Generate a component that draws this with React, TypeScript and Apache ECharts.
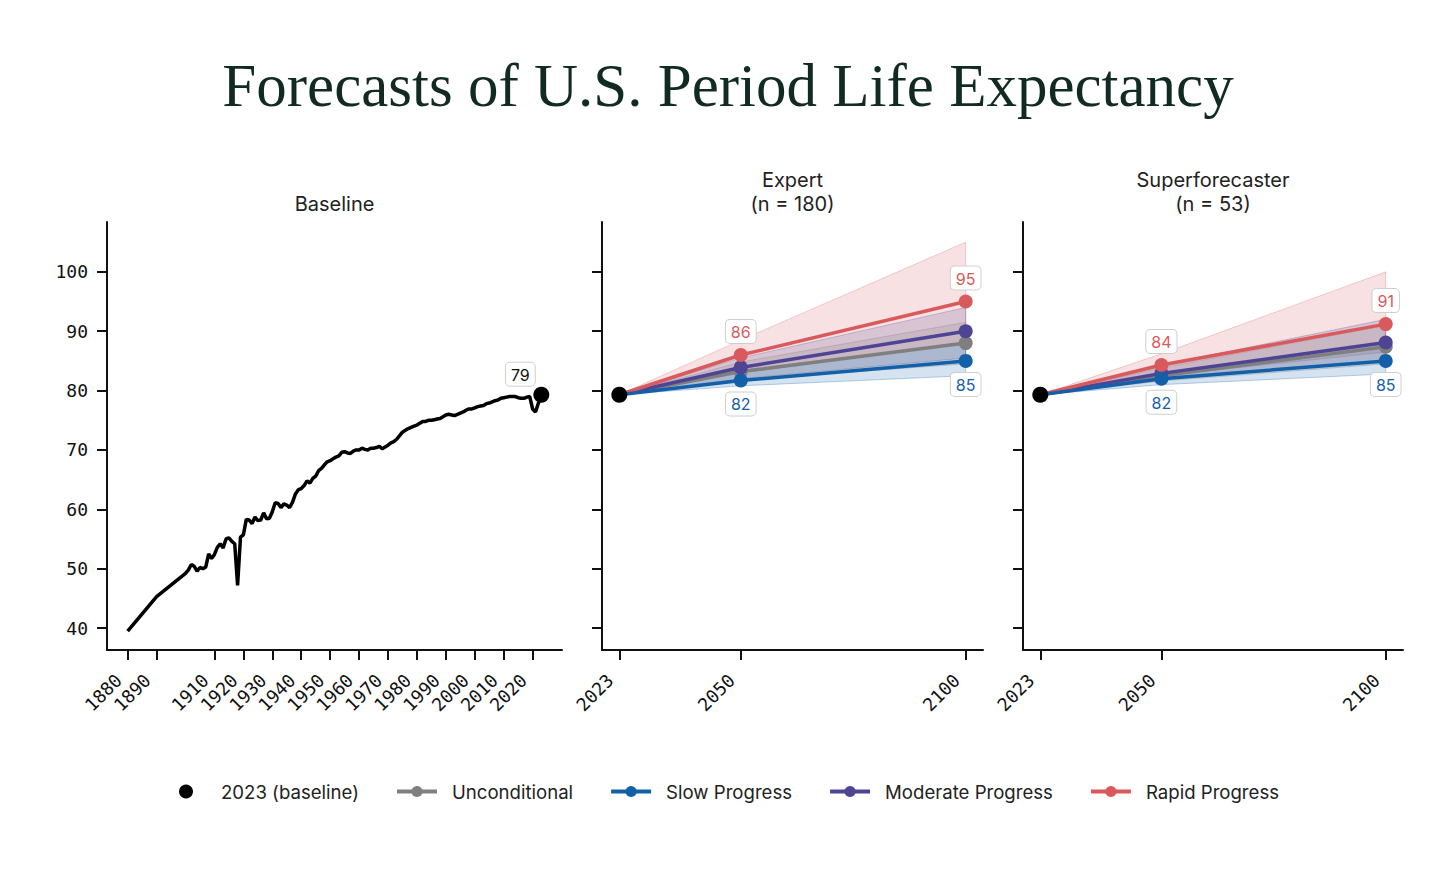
import React, { useEffect, useRef } from "react";
import * as echarts from "echarts";

// ---------- DATA ----------
const HIST_YEARS: number[] = [1880, 1890, ...Array.from({ length: 124 }, (_, i) => 1900 + i)];
const HIST_VALUES: number[] = [
  39.5, 45.3,
  49.2, 49.8, 50.7, 50.4, 49.6, 50.2, 50.0, 50.3, 52.5, 51.7,
  52.4, 53.6, 54.2, 53.5, 55.0, 55.2, 54.6, 54.2, 47.2, 55.3,
  55.7, 58.3, 58.2, 57.6, 58.7, 58.1, 58.2, 59.4, 58.4, 58.5,
  59.6, 61.1, 61.0, 60.3, 60.9, 60.7, 60.3, 61.2, 62.6, 63.3,
  63.5, 64.0, 64.8, 64.4, 65.2, 65.6, 66.5, 66.9, 67.5, 68.0,
  68.2, 68.5, 68.8, 69.0, 69.6, 69.7, 69.5, 69.4, 69.8, 70.0,
  70.0, 70.3, 70.1, 70.0, 70.3, 70.3, 70.4, 70.6, 70.2, 70.5,
  70.8, 71.2, 71.4, 71.8, 72.4, 73.0, 73.3, 73.6, 73.8, 74.0,
  74.2, 74.5, 74.8, 74.8, 75.0, 75.0, 75.1, 75.2, 75.3, 75.6,
  75.9, 76.0, 75.9, 75.8, 76.0, 76.2, 76.4, 76.7, 76.9, 76.9,
  77.1, 77.3, 77.4, 77.5, 77.8, 77.9, 78.1, 78.3, 78.4, 78.7,
  78.8, 78.9, 79.0, 79.0, 79.0, 78.8, 78.7, 78.7, 78.9, 79.0,
  76.9, 76.4, 77.9, 79.3,
];
const HIST_TICKS = [1880, 1890, 1910, 1920, 1930, 1940, 1950, 1960, 1970, 1980, 1990, 2000, 2010, 2020];
const Y_TICKS = [40, 50, 60, 70, 80, 90, 100];

const BASELINE_YEAR = 2023;
const BASELINE_VALUE = 79.3;
const FORECAST_YEARS = [2023, 2050, 2100];

const EXPERT_UNCOND = [79.3, 83.2, 88.0];
const EXPERT_SLOW = [79.3, 81.7, 85.0];
const EXPERT_MODERATE = [79.3, 83.9, 90.0];
const EXPERT_RAPID = [79.3, 86.0, 95.0];
const EXPERT_RAPID_LO = [79.3, 83.5, 88.0];
const EXPERT_RAPID_HI = [79.3, 88.5, 105.0];
const EXPERT_MODERATE_LO = [79.3, 82.0, 85.5];
const EXPERT_MODERATE_HI = [79.3, 85.5, 94.0];
const EXPERT_UNCOND_LO = [79.3, 81.8, 84.5];
const EXPERT_UNCOND_HI = [79.3, 84.8, 91.5];
const EXPERT_SLOW_LO = [79.3, 80.8, 82.5];
const EXPERT_SLOW_HI = [79.3, 83.0, 88.0];

const SUPER_UNCOND = [79.3, 82.5, 87.4];
const SUPER_SLOW = [79.3, 82.0, 85.0];
const SUPER_MODERATE = [79.3, 82.9, 88.1];
const SUPER_RAPID = [79.3, 84.3, 91.2];
const SUPER_RAPID_LO = [79.3, 82.5, 86.5];
const SUPER_RAPID_HI = [79.3, 86.2, 100.0];
const SUPER_MODERATE_LO = [79.3, 81.8, 85.0];
const SUPER_MODERATE_HI = [79.3, 84.3, 92.0];
const SUPER_UNCOND_LO = [79.3, 81.6, 84.5];
const SUPER_UNCOND_HI = [79.3, 83.8, 91.0];
const SUPER_SLOW_LO = [79.3, 81.0, 82.8];
const SUPER_SLOW_HI = [79.3, 83.0, 88.0];

const PANEL_TITLES = ["Baseline", "Expert\n(n = 180)", "Superforecaster\n(n = 53)"];
const LEGEND_NAMES = ["2023 (baseline)", "Unconditional", "Slow Progress", "Moderate Progress", "Rapid Progress"];

// ---------- STYLE ----------
const COLORS: Record<string, string> = {
  "Unconditional": "#7f7f7f",
  "Slow Progress": "#1460a8",
  "Moderate Progress": "#4e4494",
  "Rapid Progress": "#d95a5c",
};
const AXIS_COLOR = "#111111";
const MONO = "'DejaVu Sans Mono', monospace";
const SANS = "Inter, 'Noto Sans', sans-serif";

const GRIDS = [
  { left: 107, top: 222, width: 455, height: 428 },
  { left: 602, top: 222, width: 381, height: 428 },
  { left: 1023, top: 222, width: 380, height: 428 },
];

function rgba(hex: string, a: number) {
  const n = parseInt(hex.slice(1), 16);
  return `rgba(${(n >> 16) & 255},${(n >> 8) & 255},${n & 255},${a})`;
}

const labelBox = (color: string, position: string) => ({
  show: true,
  position,
  distance: 5,
  color,
  fontFamily: SANS,
  fontSize: 16,
  backgroundColor: "#ffffff",
  borderColor: "#cfcfcf",
  borderWidth: 1,
  borderRadius: 4,
  padding: [4, 5, 3, 5],
  formatter: (p: any) => String(Math.round(p.value[1])),
});

function lineSeries(name: string, idx: number, values: number[], labelPos: string | null, z: number) {
  const color = COLORS[name];
  return {
    type: "line",
    name,
    xAxisIndex: idx,
    yAxisIndex: idx,
    z,
    symbol: "circle",
    symbolSize: 14,
    showSymbol: true,
    lineStyle: { color, width: 3.5 },
    itemStyle: { color },
    label: { show: false },
    data: FORECAST_YEARS.map((y, i) => {
      const item: any = { value: [y, values[i]] };
      if (labelPos && i > 0) item.label = labelBox(color, labelPos);
      return item;
    }),
  };
}

function bandSeries(name: string, idx: number, lo: number[], hi: number[], color: string) {
  return {
    type: "custom",
    name: name + " band " + idx,
    xAxisIndex: idx,
    yAxisIndex: idx,
    z: 1,
    silent: true,
    data: FORECAST_YEARS.map((y, i) => [y, lo[i], hi[i]]),
    encode: { x: 0, y: [1, 2] },
    renderItem: (params: any, api: any) => {
      if (params.dataIndexInside !== 0) return null;
      const n = params.dataInsideLength;
      const top: number[][] = [];
      const bot: number[][] = [];
      for (let j = 0; j < n; j++) {
        top.push(api.coord([api.value(0, j), api.value(2, j)]));
        bot.push(api.coord([api.value(0, j), api.value(1, j)]));
      }
      return {
        type: "polygon",
        shape: { points: top.concat(bot.reverse()) },
        style: { fill: rgba(color, 0.18), stroke: rgba(color, 0.28), lineWidth: 1 },
      };
    },
  };
}

function baselineSeries(idx: number, withLabel: boolean) {
  return {
    type: "scatter",
    name: "2023 (baseline)",
    xAxisIndex: idx,
    yAxisIndex: idx,
    z: 5,
    symbol: "circle",
    symbolSize: 16,
    itemStyle: { color: "#000000", opacity: 1 },
    data: [
      {
        value: [BASELINE_YEAR, BASELINE_VALUE],
        label: withLabel
          ? { ...labelBox("#111111", "top"), distance: 1, offset: [-21, 0] }
          : { show: false },
      },
    ],
  };
}

function panelSeries(
  idx: number,
  uncond: number[], slow: number[], moderate: number[], rapid: number[],
  bands: [number[], number[], number[], number[], number[], number[], number[], number[]]
) {
  return [
    bandSeries("Rapid Progress", idx, bands[0], bands[1], COLORS["Rapid Progress"]),
    bandSeries("Moderate Progress", idx, bands[2], bands[3], COLORS["Moderate Progress"]),
    bandSeries("Unconditional", idx, bands[4], bands[5], COLORS["Unconditional"]),
    bandSeries("Slow Progress", idx, bands[6], bands[7], COLORS["Slow Progress"]),
    lineSeries("Unconditional", idx, uncond, null, 2),
    lineSeries("Moderate Progress", idx, moderate, null, 3),
    lineSeries("Rapid Progress", idx, rapid, "top", 3),
    lineSeries("Slow Progress", idx, slow, "bottom", 4),
    baselineSeries(idx, false),
  ];
}

function xAxis(idx: number, min: number, max: number, ticks: number[]) {
  return {
    type: "value",
    gridIndex: idx,
    min,
    max,
    axisLine: { show: true, onZero: false, lineStyle: { color: AXIS_COLOR, width: 2 } },
    axisTick: { show: true, length: 10, customValues: ticks, lineStyle: { color: AXIS_COLOR, width: 2 } },
    axisLabel: {
      show: true,
      customValues: ticks,
      rotate: 45,
      margin: 18,
      padding: [0, 13, 0, 0],
      color: AXIS_COLOR,
      fontFamily: MONO,
      fontSize: 18,
      formatter: (v: number) => String(v),
    },
    splitLine: { show: false },
  };
}

function yAxis(idx: number, showLabels: boolean) {
  return {
    type: "value",
    gridIndex: idx,
    min: 36.3,
    max: 108.4,
    axisLine: { show: true, onZero: false, lineStyle: { color: AXIS_COLOR, width: 2 } },
    axisTick: { show: true, length: 10, customValues: Y_TICKS, lineStyle: { color: AXIS_COLOR, width: 2 } },
    axisLabel: {
      show: showLabels,
      customValues: Y_TICKS,
      margin: 19,
      color: AXIS_COLOR,
      fontFamily: MONO,
      fontSize: 18,
    },
    splitLine: { show: false },
  };
}

function buildOption() {
  const graphic: any[] = [
    {
      type: "text",
      x: 728,
      y: 85,
      style: {
        text: "Forecasts of U.S. Period Life Expectancy",
        align: "center",
        verticalAlign: "middle",
        fontFamily: "'Liberation Serif', 'DejaVu Serif', serif",
        fontSize: 61,
        fill: "#112a22",
      },
    },
  ];
  PANEL_TITLES.forEach((t, i) => {
    const g = GRIDS[i];
    graphic.push({
      type: "text",
      x: g.left + g.width / 2,
      y: 216,
      style: {
        text: t,
        align: "center",
        verticalAlign: "bottom",
        fontFamily: SANS,
        fontSize: 20,
        lineHeight: 24,
        fill: "#222222",
      },
    });
  });

  return {
    animation: false,
    backgroundColor: "#ffffff",
    grid: GRIDS.map((g) => ({ ...g, containLabel: false })),
    xAxis: [
      xAxis(0, 1872.85, 2030.15, HIST_TICKS),
      xAxis(1, 2019.15, 2103.85, FORECAST_YEARS),
      xAxis(2, 2019.15, 2103.85, FORECAST_YEARS),
    ],
    yAxis: [yAxis(0, true), yAxis(1, false), yAxis(2, false)],
    legend: {
      data: LEGEND_NAMES,
      left: 174,
      top: 777,
      orient: "horizontal",
      itemWidth: 40,
      itemHeight: 14,
      itemGap: 36,
      lineStyle: { width: 4 },
      textStyle: { fontFamily: SANS, fontSize: 18.6, color: "#222222", padding: [0, 0, 0, 10] },
      selectedMode: false,
    },
    graphic,
    series: [
      {
        type: "line",
        name: "Historical",
        xAxisIndex: 0,
        yAxisIndex: 0,
        z: 2,
        showSymbol: false,
        lineStyle: { color: "#000000", width: 3.5 },
        itemStyle: { color: "#000000" },
        data: HIST_YEARS.map((y, i) => [y, HIST_VALUES[i]]),
      },
      baselineSeries(0, true),
      ...panelSeries(1, EXPERT_UNCOND, EXPERT_SLOW, EXPERT_MODERATE, EXPERT_RAPID, [
        EXPERT_RAPID_LO, EXPERT_RAPID_HI, EXPERT_MODERATE_LO, EXPERT_MODERATE_HI,
        EXPERT_UNCOND_LO, EXPERT_UNCOND_HI, EXPERT_SLOW_LO, EXPERT_SLOW_HI,
      ]),
      ...panelSeries(2, SUPER_UNCOND, SUPER_SLOW, SUPER_MODERATE, SUPER_RAPID, [
        SUPER_RAPID_LO, SUPER_RAPID_HI, SUPER_MODERATE_LO, SUPER_MODERATE_HI,
        SUPER_UNCOND_LO, SUPER_UNCOND_HI, SUPER_SLOW_LO, SUPER_SLOW_HI,
      ]),
    ],
  };
}

export default function App() {
  const ref = useRef<HTMLDivElement>(null);
  useEffect(() => {
    if (!ref.current) return;
    const chart = echarts.init(ref.current, null, { renderer: "svg" });
    chart.setOption(buildOption() as any);
    return () => chart.dispose();
  }, []);
  return (
    <div
      ref={ref}
      style={{ position: "fixed", left: 0, top: 0, width: 1456, height: 879, background: "#ffffff" }}
    />
  );
}
